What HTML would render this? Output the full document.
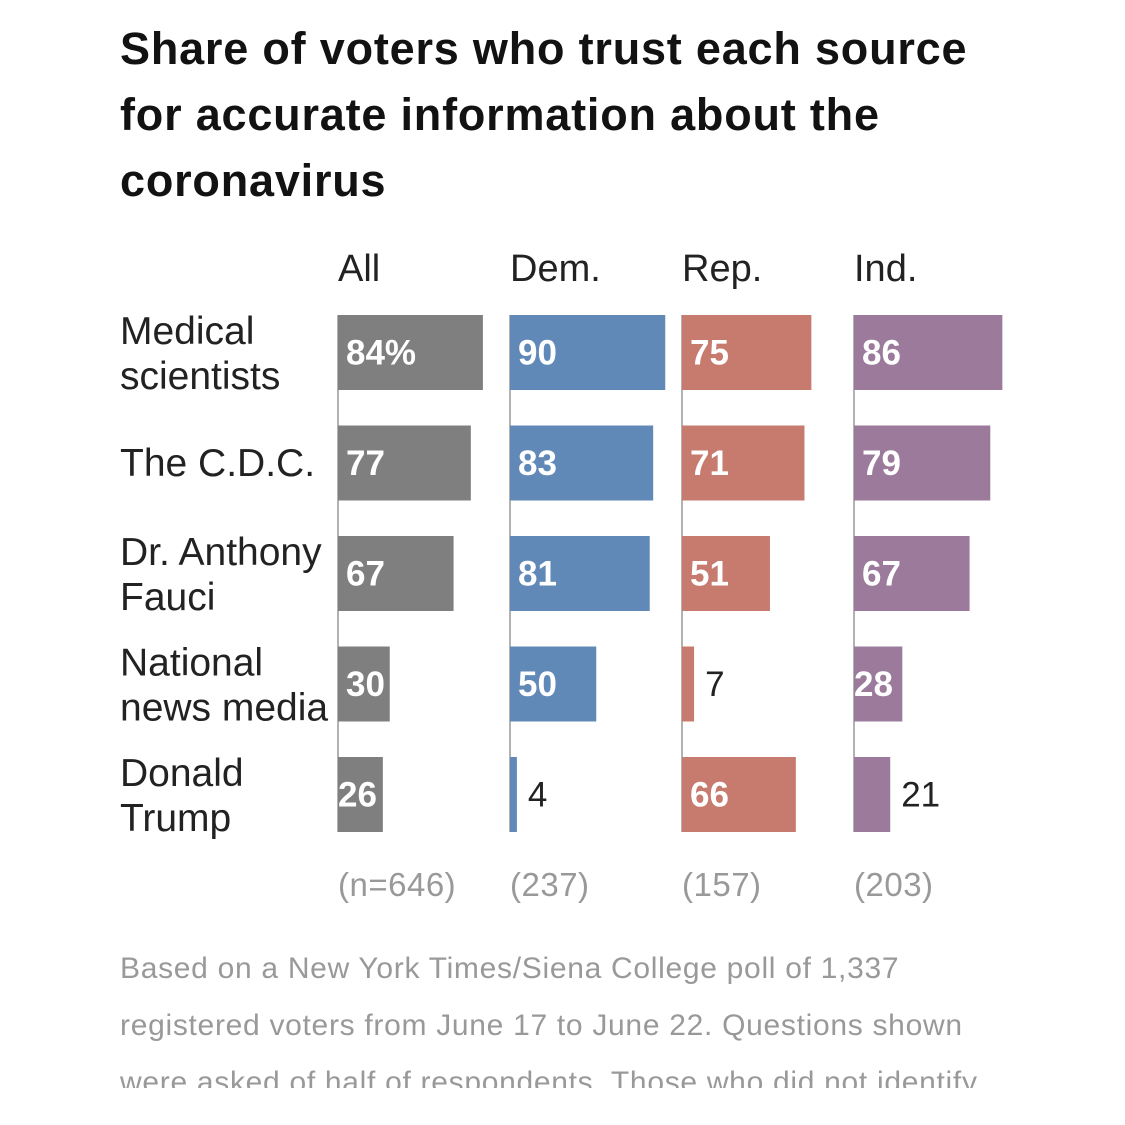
<!DOCTYPE html>
<html><head><meta charset="utf-8"><style>
body{margin:0;background:#fff;width:1125px;height:1125px;overflow:hidden}
svg{display:block}
</style></head><body>
<svg width="1125" height="1125" id="c" font-family="Liberation Sans, sans-serif">
<g font-weight="bold" font-size="45" fill="#121212" letter-spacing="0.8">
<text x="120" y="64">Share of voters who trust each source</text>
<text x="120" y="130">for accurate information about the</text>
<text x="120" y="196">coronavirus</text>
</g>
<g font-size="30" fill="#999" letter-spacing="0.7">
<text x="120" y="978">Based on a New York Times/Siena College poll of 1,337</text>
<text x="120" y="1035">registered voters from June 17 to June 22. Questions shown</text>
<text x="120" y="1092">were asked of half of respondents. Those who did not identify</text>
</g>
<rect x="0" y="1088" width="1125" height="37" fill="#fff"/>
</svg>
<script>
const groups=["All","Dem.","Rep.","Ind."];
const sizes=["(n=646)","(237)","(157)","(203)"];
const sources=[["Medical","scientists"],["The C.D.C."],["Dr. Anthony","Fauci"],["National","news media"],["Donald","Trump"]];
const allVals=[84,77,67,30,26];
const demVals=[90,83,81,50,4];
const repVals=[75,71,51,7,66];
const indVals=[86,79,67,28,21];
const series=[allVals,demVals,repVals,indVals];
const colors=["#7f7f7f","#6189b8","#c77a6e","#9b7a9c"];
const svg=document.getElementById('c');
const NS="http://www.w3.org/2000/svg";
const colX=i=>338+i*172;
const xs=v=>v*1.725;
const rowY=j=>315+j*110.5;
const BH=75;
function mk(t,a,txt){const e=document.createElementNS(NS,t);for(const k in a)e.setAttribute(k,a[k]);if(txt!==undefined)e.textContent=txt;svg.appendChild(e);return e;}
groups.forEach((g,i)=>{
  const h=mk('text',{x:colX(i),y:281,'font-size':38,fill:'#222'},g);
  
  
  const ax=mk('line',{x1:colX(i),x2:colX(i),y1:rowY(0),y2:rowY(4)+BH,stroke:'#999','stroke-width':1.5});
  
  
  const n=mk('text',{x:colX(i),y:896,'font-size':33,fill:'#999','letter-spacing':0.5},sizes[i]);
  
  
  series[i].forEach((v,j)=>{
    const r=mk('rect',{x:colX(i),y:rowY(j),width:xs(v),height:BH,fill:colors[i]});
    
    
    const lbl=(i===0&&j===0)?v+'%':String(v);
    let t;
    if(v>=25){t=mk('text',{x:colX(i)+(v<=28?0:8),y:rowY(j)+BH/2+12,'font-size':35,'font-weight':'bold',fill:'#fff'},lbl);}
    else{t=mk('text',{x:colX(i)+xs(v)+11,y:rowY(j)+BH/2+12,'font-size':35,fill:'#222'},lbl);}
    
    
  });
});
sources.forEach((s,j)=>{
  const base=s.length===1?rowY(j)+BH/2+13:rowY(j)+29;
  s.forEach((ln,k)=>{
    const t=mk('text',{x:120,y:base+k*45,'font-size':39,fill:'#222'},ln);
    
    
  });
});
</script>
</body></html>
